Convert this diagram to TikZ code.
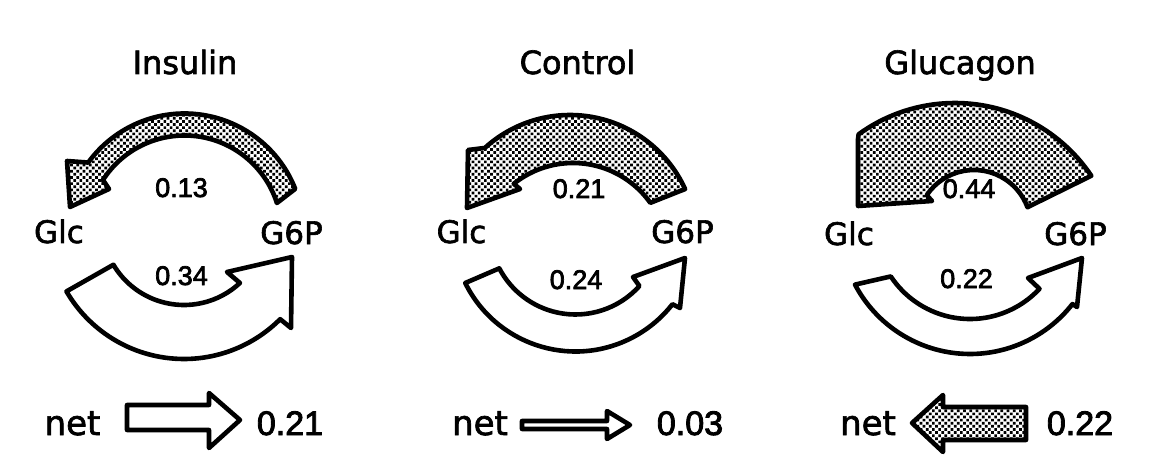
\documentclass[tikz,border=0pt]{standalone}
\usepackage{fontspec}
\setmainfont{DejaVu Sans}[FakeBold=2]
\newfontfamily\numfont{Liberation Sans}[FakeBold=2.6]
\usetikzlibrary{patterns.meta,calc}
\tikzset{
  flux/.style={draw=black, line width=4.6pt, line join=round},
  fluxw/.style={flux, fill=white},
  fluxd/.style={flux, pattern={Dots[radius=1.9pt,distance=4.4pt,angle=45]}, pattern color=black},
  title/.style={anchor=base, inner sep=0pt, font=\fontsize{32}{36}\selectfont},
  metab/.style={anchor=base, inner sep=0pt, font=\fontsize{31}{36}\selectfont},
  rate/.style={anchor=base, inner sep=0pt, font=\numfont\fontsize{27}{30}\selectfont},
  netlab/.style={anchor=base, inner sep=0pt, font=\fontsize{34}{38}\selectfont},
  netval/.style={anchor=base, inner sep=0pt, font=\numfont\fontsize{34}{38}\selectfont},
}
\begin{document}
\begin{tikzpicture}[x=1pt,y=1pt]
\useasboundingbox[fill=white] (0,0) rectangle (1159,-473);

% ---------- Insulin ----------
\node[title] (tI) at (185,-74) {Insulin};
\coordinate (c1t) at (184.5,-232.5);
\coordinate (c1b) at (184,-223);
\draw[fluxd] ($(c1t)+(21.5:119pt)$) arc[start angle=21.5, end angle=144, radius=119pt]
  -- (67,-161) -- (70,-207) -- (109,-189)
  -- ($(c1t)+(147.2:97pt)$) arc[start angle=147.2, end angle=17.7, radius=97pt] -- cycle;
\draw[fluxw] ($(c1b)+(210.2:136pt)$) arc[start angle=210.2, end angle=315, radius=136pt]
  -- (291,-328) -- (292,-257) -- (227,-272)
  -- ($(c1b)+(313:82pt)$) arc[start angle=313, end angle=210.6, radius=82pt] -- cycle;
\node[metab] (glc1) at (59,-243) {Glc};
\node[metab] (g6p1) at (291.5,-244) {G6P};
\node[rate] (r1a) at (181.5,-197) {0.13};
\node[rate] (r1b) at (181.5,-285) {0.34};
\node[netlab] (n1) at (72.5,-435) {net};
\draw[fluxw] (127,-405) -- (209,-405) -- (209,-393) -- (240,-420) -- (209,-448) -- (209,-430) -- (127,-430) -- cycle;
\node[netval] (v1) at (290,-435) {0.21};

% ---------- Control ----------
\node[title] (tC) at (577.5,-74) {Control};
\coordinate (c2t) at (570,-241.5);
\coordinate (c2i) at (573,-258);
\coordinate (c2b) at (575.5,-228.5);
\draw[fluxd] ($(c2t)+(24.5:126.5pt)$) arc[start angle=24.5, end angle=132.3, radius=126.5pt]
  -- (468,-150) -- (467,-208) -- (520,-189)
  -- ($(c2i)+(128.6:95pt)$) arc[start angle=128.6, end angle=35.5, radius=95pt] -- cycle;
\draw[fluxw] ($(c2b)+(206.3:123pt)$) arc[start angle=206.3, end angle=322, radius=123pt]
  -- (680,-308) -- (685,-258) -- (633,-277)
  -- ($(c2b)+(318:86pt)$) arc[start angle=318, end angle=207.6, radius=86pt] -- cycle;
\node[metab] (glc2) at (461.5,-243) {Glc};
\node[metab] (g6p2) at (682.5,-243) {G6P};
\node[rate] (r2a) at (579,-198) {0.21};
\node[rate] (r2b) at (576,-289) {0.24};
\node[netlab] (n2) at (480,-435) {net};
\draw[fluxw] (522,-421) -- (607,-421) -- (607,-411) -- (630,-425) -- (607,-439) -- (607,-429) -- (522,-429) -- cycle;
\node[netval] (v2) at (690,-435) {0.03};

% ---------- Glucagon ----------
\node[title] (tG) at (960,-74) {Glucagon};
\coordinate (c3t) at (955,-267);
\coordinate (c3i) at (974,-227);
\coordinate (c3b) at (970,-224);
\draw[fluxd] ($(c3t)+(33.8:164pt)$) arc[start angle=33.8, end angle=126, radius=164pt]
  -- (858,-139) -- (858,-206) -- (932,-201)
  -- ($(c3i)+(146:57pt)$) arc[start angle=146, end angle=20.3, radius=57pt] -- cycle;
\draw[fluxw] ($(c3b)+(207.8:130pt)$) arc[start angle=207.8, end angle=322, radius=130pt]
  -- (1077,-307) -- (1082,-258) -- (1028,-278)
  -- ($(c3b)+(317:95pt)$) arc[start angle=317, end angle=213.5, radius=95pt] -- cycle;
\node[metab] (glc3) at (849,-245) {Glc};
\node[metab] (g6p3) at (1075.5,-245) {G6P};
\node[rate] (r3a) at (969,-198) {0.44};
\node[rate] (r3b) at (966.5,-288) {0.22};
\node[netlab] (n3) at (868,-435) {net};
\draw[fluxd] (1026,-407) -- (943,-407) -- (943,-395) -- (912,-423) -- (943,-452) -- (943,-440) -- (1026,-440) -- cycle;
\node[netval] (v3) at (1080,-435) {0.22};
\end{tikzpicture}
\end{document}
